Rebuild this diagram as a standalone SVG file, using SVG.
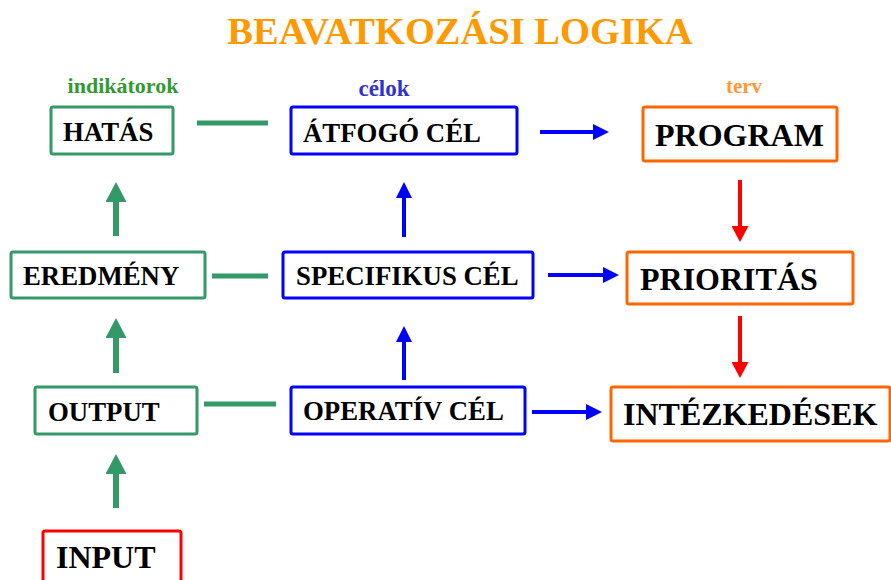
<svg xmlns="http://www.w3.org/2000/svg" width="891" height="580" viewBox="0 0 891 580">
<style>
  .t{font-family:"Liberation Serif","Times New Roman",serif;font-weight:bold;fill:#000}
  .s26{font-size:26.8px}
  .s32{font-size:32px}
  .hdr{font-family:"Liberation Serif","Times New Roman",serif;font-weight:bold}
  .bg{fill:#fff;stroke:#339966;stroke-width:3}
  .bb{fill:#fff;stroke:#0000ff;stroke-width:3}
  .bo{fill:#fff;stroke:#ff6600;stroke-width:3}
  .br{fill:#fff;stroke:#ff0000;stroke-width:3}
  .lg{stroke:#339966;stroke-width:5;fill:none}
  .ag{stroke:#339966;stroke-width:6;fill:none}
  .ab{stroke:#0000ff;stroke-width:4;fill:none}
  .ar{stroke:#ff0000;stroke-width:4;fill:none}
</style>
<defs>
  <marker id="mg" viewBox="0 0 20 21" refX="1" refY="10.5" markerWidth="20" markerHeight="21" markerUnits="userSpaceOnUse" orient="auto"><path d="M0,0 L20,10.5 L0,21 z" fill="#339966"/></marker>
  <marker id="mb" viewBox="0 0 16 16" refX="1" refY="8" markerWidth="16" markerHeight="16" markerUnits="userSpaceOnUse" orient="auto"><path d="M0,0 L16,8 L0,16 z" fill="#0000ff"/></marker>
  <marker id="mr" viewBox="0 0 16 17" refX="1" refY="8.5" markerWidth="16" markerHeight="17" markerUnits="userSpaceOnUse" orient="auto"><path d="M0,0 L16,8.5 L0,17 z" fill="#ff0000"/></marker>
</defs>
<rect width="891" height="580" fill="#fff"/>
<text x="460" y="44" text-anchor="middle" font-family="Liberation Serif,Times New Roman,serif" font-weight="bold" font-size="38.5" fill="#ff9900">BEAVATKOZÁSI LOGIKA</text>
<text class="hdr" x="123" y="93" text-anchor="middle" font-size="22" fill="#339933">indikátorok</text>
<text class="hdr" x="384" y="96" text-anchor="middle" font-size="23" fill="#3333cc">célok</text>
<text class="hdr" x="744" y="93" text-anchor="middle" font-size="21" fill="#ff9933">terv</text>

<g id="connectors">
  <line class="lg" x1="197" y1="123" x2="268" y2="123"/>
  <line class="lg" x1="212" y1="276" x2="268" y2="276"/>
  <line class="lg" x1="204" y1="404" x2="276" y2="404"/>
  <line class="ag" x1="116" y1="236" x2="116" y2="201" marker-end="url(#mg)"/>
  <line class="ag" x1="116" y1="373" x2="116" y2="337" marker-end="url(#mg)"/>
  <line class="ag" x1="116" y1="508" x2="116" y2="473" marker-end="url(#mg)"/>
  <line class="ab" x1="404" y1="237" x2="404" y2="197" marker-end="url(#mb)"/>
  <line class="ab" x1="404" y1="380" x2="404" y2="341" marker-end="url(#mb)"/>
  <line class="ab" x1="540" y1="132" x2="594" y2="132" marker-end="url(#mb)"/>
  <line class="ab" x1="548" y1="275" x2="604" y2="275" marker-end="url(#mb)"/>
  <line class="ab" x1="532" y1="412" x2="587" y2="412" marker-end="url(#mb)"/>
  <line class="ar" x1="740" y1="180" x2="740" y2="227" marker-end="url(#mr)"/>
  <line class="ar" x1="740" y1="316" x2="740" y2="363" marker-end="url(#mr)"/>
</g>

<g id="hatas"><rect class="bg" x="51" y="107" width="122" height="47" rx="2"/><text class="t s26" x="63" y="141">HATÁS</text></g>
<g id="eredmeny"><rect class="bg" x="11" y="252" width="194" height="46" rx="2"/><text class="t s26" x="23" y="285">EREDMÉNY</text></g>
<g id="output"><rect class="bg" x="35" y="387" width="162" height="47" rx="2"/><text class="t s26" x="48" y="421">OUTPUT</text></g>
<g id="input"><rect class="br" x="43" y="531" width="138" height="60" rx="2"/><text class="t s32" x="56" y="568">INPUT</text></g>
<g id="atfogo"><rect class="bb" x="291" y="107" width="226" height="47" rx="2"/><text class="t s26" x="303" y="142">ÁTFOGÓ CÉL</text></g>
<g id="specifikus"><rect class="bb" x="283" y="252" width="250" height="46" rx="2"/><text class="t s26" x="296" y="285">SPECIFIKUS CÉL</text></g>
<g id="operativ"><rect class="bb" x="291" y="387" width="234" height="47" rx="2"/><text class="t s26" x="303" y="420">OPERATÍV CÉL</text></g>
<g id="program"><rect class="bo" x="643" y="107" width="194" height="54" rx="2"/><text class="t s32" x="655" y="146">PROGRAM</text></g>
<g id="prioritas"><rect class="bo" x="627" y="252" width="226" height="52" rx="2"/><text class="t s32" x="640" y="290">PRIORITÁS</text></g>
<g id="intezkedesek"><rect class="bo" x="611" y="387" width="279" height="54" rx="2"/><text class="t s32" x="623" y="425">INTÉZKEDÉSEK</text></g>
</svg>
